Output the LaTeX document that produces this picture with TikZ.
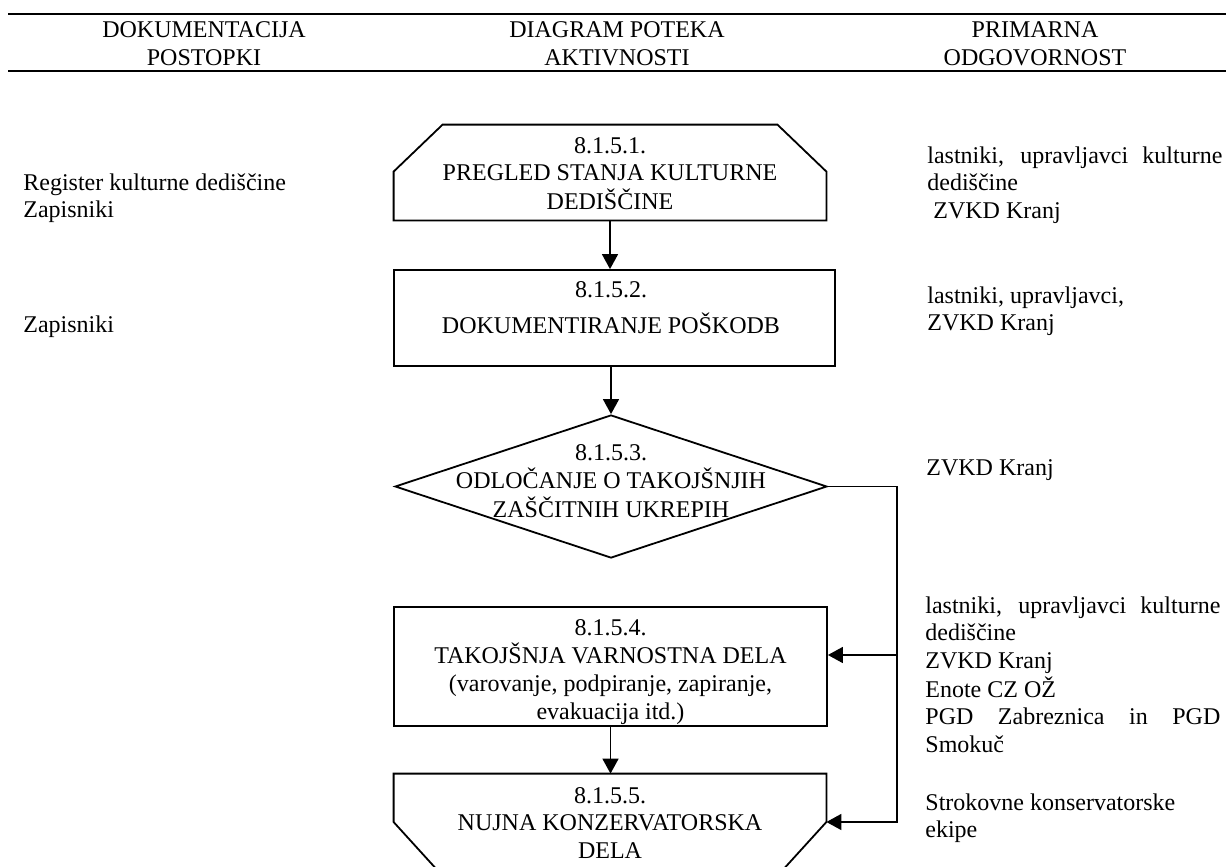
\documentclass[tikz,border=0pt]{standalone}
\usepackage{fontspec}
\setmainfont{Liberation Serif}
\usetikzlibrary{calc,arrows.meta,shapes.geometric}
\newcommand{\mlc}[1]{\begin{tabular}[t]{@{}c@{}}#1\end{tabular}}
\newcommand{\mll}[1]{\begin{tabular}[t]{@{}l@{}}#1\end{tabular}}
\newcommand{\jline}[1]{\makebox[147.5pt][s]{#1}}
\tikzset{
  txt/.style={inner sep=0pt, anchor=base, font=\fontsize{12pt}{13.8pt}\selectfont},
  txtl/.style={txt, anchor=base west},
  shp/.style={line width=0.9pt},
  frame/.style={draw, line width=0.9pt, inner sep=0pt},
  conn/.style={line width=0.8pt, -{Triangle[length=7.5pt,width=8pt]}},
  rulex/.style={line width=1.3pt}
}
\begin{document}
\begin{tikzpicture}[x=0.5pt,y=-0.5pt]
\useasboundingbox (0,0) rectangle (1226,867);
\clip (0,0) rectangle (1226,867);
% header
\draw[rulex] (8,14) -- (1226,14);
\draw[rulex] (8,71) -- (1226,71);
\node[txt] (h1) at (204,38) {\mlc{DOKUMENTACIJA\\POSTOPKI}};
\node[txt] (h2) at (617,38) {\mlc{DIAGRAM POTEKA\\AKTIVNOSTI}};
\node[txt] (h3) at (1035,38) {\mlc{PRIMARNA\\ODGOVORNOST}};
% shape 1
\node[inner sep=0pt, minimum width=216pt, minimum height=47.5pt] (s1) at (610,172.5) {};
\draw[shp] (s1.south west) -- ($(s1.north west)+(0,47)$) -- ($(s1.north west)+(49,0)$)
  -- ($(s1.north east)+(-49,0)$) -- ($(s1.north east)+(0,47)$) -- (s1.south east) -- cycle;
\node[txt] (t1) at (610,153) {\mlc{8.1.5.1.\\PREGLED STANJA KULTURNE\\DEDIŠČINE}};
% box 2
\node[frame, minimum width=220.5pt, minimum height=48pt] (b2) at (614.5,318) {};
\node[txt] (t2) at (611,297) {\mlc{8.1.5.2.\\[3.7pt]DOKUMENTIRANJE POŠKODB}};
% diamond
\node[diamond, draw, shp, inner sep=0pt, minimum width=216pt, minimum height=71.5pt] (d3) at (611,486.5) {};
\node[txt] (t3) at (611,460) {\mlc{8.1.5.3.\\ODLOČANJE O TAKOJŠNJIH\\ZAŠČITNIH UKREPIH}};
% box 4
\node[frame, minimum width=216.5pt, minimum height=59.5pt] (b4) at (610.5,666.5) {};
\node[txt] (t4) at (610.5,635) {\mlc{8.1.5.4.\\TAKOJŠNJA VARNOSTNA DELA\\(varovanje, podpiranje, zapiranje,\\evakuacija itd.)}};
% shape 5
\node[inner sep=0pt, minimum width=216pt, minimum height=48pt] (s5) at (610,822) {};
\draw[shp] (s5.north west) -- (s5.west) -- ($(s5.south west)+(44,0)$)
  -- ($(s5.south east)+(-44,0)$) -- (s5.east) -- (s5.north east) -- cycle;
\node[txt] (t5) at (610,803) {\mlc{8.1.5.5.\\NUJNA KONZERVATORSKA\\DELA}};
% connectors
\coordinate (j2) at (897,655);
\coordinate (j3) at (897,822);
\draw[conn] (s1.south) -- (s1.south |- b2.north);
\draw[conn] (d3.north |- b2.south) -- (d3.north);
\draw[conn] (d3.east) -| (j3) -- (s5.east);
\draw[conn] (j2) -- (j2 -| b4.east);
\draw[conn] (b4.south) -- (b4.south |- s5.north);
% left column
\node[txtl] (l1) at (23,190) {\mll{Register kulturne dediščine\\Zapisniki}};
\node[txtl] (l2) at (23,332) {Zapisniki};
% right column
\node[txtl] (r1) at (927,163) {\mll{\jline{lastniki, upravljavci kulturne}\\dediščine\\\hspace*{3pt}ZVKD Kranj}};
\node[txtl] (r2) at (927,303) {\mll{lastniki, upravljavci,\\ZVKD Kranj}};
\node[txtl] (r3) at (926,475) {ZVKD Kranj};
\node[txtl] (r4) at (925,613) {\mll{\jline{lastniki, upravljavci kulturne}\\dediščine\\ZVKD Kranj\\Enote CZ OŽ\\\jline{PGD Zabreznica in PGD}\\Smokuč}};
\node[txtl] (r5) at (925,810) {\mll{Strokovne konservatorske\\ekipe}};
\end{tikzpicture}
\end{document}
